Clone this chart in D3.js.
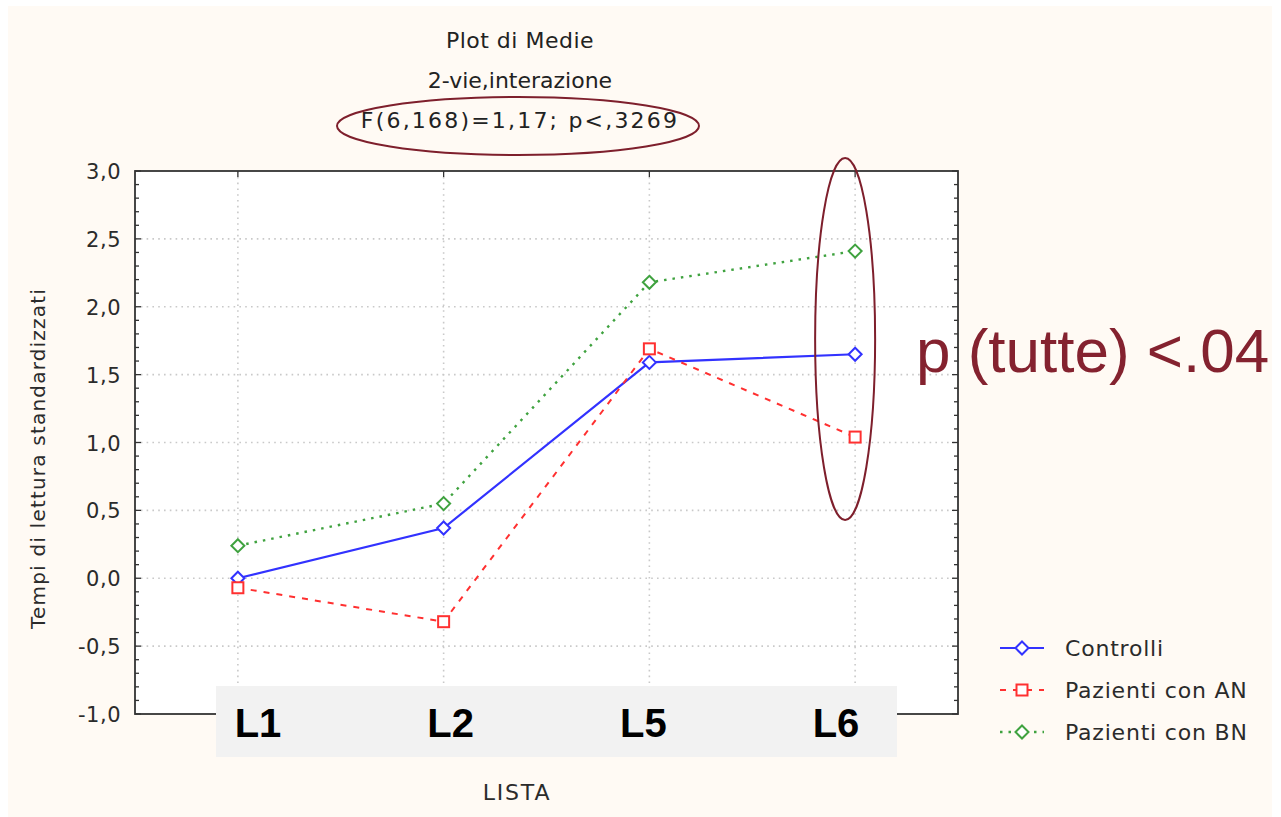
<!DOCTYPE html>
<html>
<head>
<meta charset="utf-8">
<script src="https://cdn.jsdelivr.net/npm/d3@7"></script>
<style>
  html, body { margin: 0; padding: 0; background: #ffffff; }
  svg { display: block; }
  text { font-family: "DejaVu Sans", Verdana, sans-serif; }
  .bold { font-family: "Liberation Sans", Arial, sans-serif; }
</style>
</head>
<body>
<svg id="chart" width="1281" height="817"></svg>
<script>
// Categories (reading lists) and group means
const categories = ["L1", "L2", "L5", "L6"];
const controlli = [0.00, 0.37, 1.59, 1.65];
const pazientiAN = [-0.07, -0.32, 1.69, 1.04];
const pazientiBN = [0.24, 0.55, 2.18, 2.41];
const yTicks = [-1.0, -0.5, 0.0, 0.5, 1.0, 1.5, 2.0, 2.5, 3.0];
const seriesNames = ["Controlli", "Pazienti con AN", "Pazienti con BN"];
const titleLines = ["Plot di Medie", "2-vie,interazione", "F(6,168)=1,17; p<,3269"];
const note = "p (tutte) <.04";

const svg = d3.select("#chart");
const W = 1281, H = 817;
const plot = { left: 135, right: 958, top: 171, bottom: 714 };
const accent = "#7e1f2c";
const textColor = "#2b2b2b";

// page panel
svg.append("rect").attr("x", 8).attr("y", 6).attr("width", 1264).attr("height", H - 6)
  .attr("fill", "#fffaf4");

const x = d3.scalePoint().domain(categories).range([plot.left, plot.right]).padding(0.5);
const y = d3.scaleLinear().domain([-1, 3]).range([plot.bottom, plot.top]);

// plot background
svg.append("rect").attr("x", plot.left).attr("y", plot.top)
  .attr("width", plot.right - plot.left).attr("height", plot.bottom - plot.top)
  .attr("fill", "#ffffff");

// dotted grid
const grid = svg.append("g").attr("stroke", "#c9c9c9").attr("stroke-width", 1.6)
  .attr("stroke-dasharray", "1.6,4.2");
yTicks.filter(v => v > -1 && v < 3).forEach(v => {
  grid.append("line").attr("x1", plot.left).attr("x2", plot.right)
    .attr("y1", y(v)).attr("y2", y(v));
});
categories.forEach(c => {
  grid.append("line").attr("x1", x(c)).attr("x2", x(c))
    .attr("y1", plot.top).attr("y2", plot.bottom);
});

// left/right axes with minor ticks every 0.1
const minor = d3.range(-10, 31).map(i => i / 10);
const axisG = svg.append("g").attr("stroke", "#333").attr("stroke-width", 1.3);
minor.forEach(v => {
  const major = Math.abs(v * 2 - Math.round(v * 2)) < 1e-6;
  const len = major ? 6 : 4;
  axisG.append("line").attr("x1", plot.left).attr("x2", plot.left + len)
    .attr("y1", y(v)).attr("y2", y(v));
  axisG.append("line").attr("x1", plot.right).attr("x2", plot.right - len)
    .attr("y1", y(v)).attr("y2", y(v));
});
categories.forEach(c => {
  axisG.append("line").attr("x1", x(c)).attr("x2", x(c))
    .attr("y1", plot.top).attr("y2", plot.top + 6);
  axisG.append("line").attr("x1", x(c)).attr("x2", x(c))
    .attr("y1", plot.bottom).attr("y2", plot.bottom - 6);
});

// frame
svg.append("rect").attr("x", plot.left).attr("y", plot.top)
  .attr("width", plot.right - plot.left).attr("height", plot.bottom - plot.top)
  .attr("fill", "none").attr("stroke", "#333").attr("stroke-width", 1.8);

// y tick labels
const fmt = v => d3.format(".1f")(v).replace(".", ",").replace("−", "-");
svg.append("g").selectAll("text").data(yTicks).join("text")
  .attr("x", plot.left - 14).attr("y", d => y(d) + 8)
  .attr("text-anchor", "end").attr("font-size", 21).attr("fill", textColor)
  .attr("letter-spacing", 0.5)
  .text(fmt);

// y axis title
svg.append("text")
  .attr("transform", `translate(45, ${(plot.top + plot.bottom) / 2 + 16}) rotate(-90)`)
  .attr("text-anchor", "middle").attr("font-size", 20).attr("fill", textColor)
  .attr("letter-spacing", 1.2)
  .text("Tempi di lettura standardizzati");

// x axis title
svg.append("text").attr("x", 517).attr("y", 800).attr("text-anchor", "middle")
  .attr("font-size", 22).attr("fill", textColor).attr("letter-spacing", 1.8).text("LISTA");

// series
const series = [
  { name: seriesNames[0], values: controlli, color: "#3232ff", dash: null, width: 2.2, marker: "diamond" },
  { name: seriesNames[1], values: pazientiAN, color: "#ff3030", dash: "6,7", width: 2, marker: "square" },
  { name: seriesNames[2], values: pazientiBN, color: "#3fa23f", dash: "2.5,6", width: 2.4, marker: "diamond" }
];

const line = d3.line().x((d, i) => x(categories[i])).y(d => y(d));

function drawMarker(g, kind, cx, cy, color) {
  if (kind === "square") {
    g.append("rect").attr("x", cx - 5.5).attr("y", cy - 5.5).attr("width", 11).attr("height", 11)
      .attr("fill", "#fff").attr("stroke", color).attr("stroke-width", 2);
  } else {
    const r = 6.5;
    g.append("path").attr("d", `M${cx},${cy - r}L${cx + r},${cy}L${cx},${cy + r}L${cx - r},${cy}Z`)
      .attr("fill", "#fff").attr("stroke", color).attr("stroke-width", 2);
  }
}

series.forEach(s => {
  const g = svg.append("g");
  g.append("path").attr("d", line(s.values)).attr("fill", "none")
    .attr("stroke", s.color).attr("stroke-width", s.width)
    .attr("stroke-dasharray", s.dash);
  s.values.forEach((v, i) => drawMarker(g, s.marker, x(categories[i]), y(v), s.color));
});

// legend
const legend = svg.append("g");
series.forEach((s, i) => {
  const ly = 648 + i * 42;
  legend.append("line").attr("x1", 1000).attr("x2", 1044).attr("y1", ly).attr("y2", ly)
    .attr("stroke", s.color).attr("stroke-width", s.width).attr("stroke-dasharray", s.dash);
  drawMarker(legend, s.marker, 1022, ly, s.color);
  legend.append("text").attr("x", 1065).attr("y", ly + 8).attr("font-size", 22)
    .attr("fill", textColor).attr("letter-spacing", 0.8).text(s.name);
});

// category labels on a grey band over the bottom axis
svg.append("rect").attr("x", 216).attr("y", 686).attr("width", 681).attr("height", 71)
  .attr("fill", "#f2f2f2");
const xLab = d3.scalePoint().domain(categories).range([258, 836]);
svg.append("g").selectAll("text").data(categories).join("text")
  .attr("class", "bold")
  .attr("x", d => xLab(d)).attr("y", 737).attr("text-anchor", "middle")
  .attr("font-size", 40).attr("font-weight", "bold").attr("fill", "#000")
  .text(d => d);

// titles
const titleSpacing = [0.5, 0, 2.2];
svg.append("g").selectAll("text").data(titleLines).join("text")
  .attr("x", 520).attr("y", (d, i) => 48 + i * 40).attr("text-anchor", "middle")
  .attr("font-size", 22).attr("fill", "#222")
  .attr("letter-spacing", (d, i) => titleSpacing[i]).text(d => d);

// highlight ellipses
svg.append("ellipse").attr("cx", 518).attr("cy", 126).attr("rx", 181).attr("ry", 29)
  .attr("fill", "none").attr("stroke", accent).attr("stroke-width", 2);
svg.append("ellipse").attr("cx", x("L6") - 10).attr("cy", 339).attr("rx", 30).attr("ry", 181)
  .attr("fill", "none").attr("stroke", accent).attr("stroke-width", 2);

// annotation
svg.append("text").attr("class", "bold").attr("x", 916).attr("y", 372).attr("font-size", 62)
  .attr("fill", "#84222f").text(note);
</script>
</body>
</html>
